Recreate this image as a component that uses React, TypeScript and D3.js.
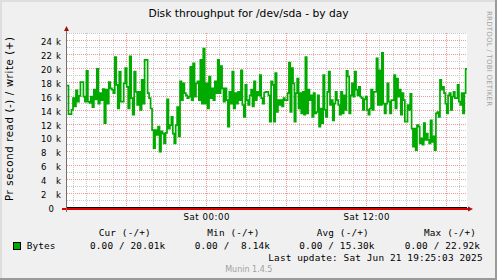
import React from 'react';
import * as d3 from 'd3';

// ---------- data (write throughput, k bytes/s), each segment covers 7.5 hours ----------
const SEG_HOURS = 7.5;
const START = new Date(2025, 5, 20, 13, 32, 0);
const END = new Date(2025, 5, 21, 19, 32, 0);

const writeSeg1 = [
  17.6, 13.5, 13.5, 14.1, 15.8, 14.6, 16.9, 15.3, 16.1, 18.1, 18.1, 16.0, 15.3, 19.7, 15.3, 15.1,
  16.0, 14.5, 17.0, 15.6, 20.0, 15.0, 16.5, 15.5, 17.1, 12.2, 17.0, 15.0, 18.1, 17.2, 17.0, 16.5,
  21.7, 17.7, 14.3, 19.6, 15.3, 15.3, 17.9, 20.1, 17.4, 14.3, 21.8, 15.8, 13.4, 19.6, 16.7, 14.8,
  16.7, 14.1, 18.4, 15.0, 21.3, 21.3, 16.5, 15.8, 14.3, 11.2, 8.6, 11.2, 10.5, 11.7, 8.1, 11.0,
  10.7, 9.3, 10.8,
];
const writeSeg2 = [
  15.6, 11.4, 11.9, 13.1, 10.7, 9.3, 11.9, 14.5, 10.3, 18.2, 15.5, 17.9, 16.5, 16.2, 15.8, 16.0,
  20.3, 15.5, 20.8, 16.0, 17.9, 18.2, 15.5, 21.3, 15.0, 22.9, 15.0, 17.9, 14.3, 18.9, 15.8, 17.2,
  15.5, 18.2, 16.5, 21.3, 16.5, 20.4, 17.2, 15.3, 17.2, 15.5, 11.7, 16.7, 15.0, 19.6, 14.3, 16.5,
  15.0, 16.7, 15.5, 19.8, 14.8, 13.1, 17.7, 15.5, 14.8, 16.2, 17.0, 14.6, 18.2, 15.5, 16.7, 16.2,
  19.1, 15.8, 15.0, 16.6, 16.7,
];
const writeSeg3 = [
  16.7, 16.2, 12.4, 18.2, 17.7, 12.4, 19.4, 13.8, 15.5, 14.8, 15.5, 14.6, 15.8, 15.5, 15.5, 16.5,
  20.9, 13.8, 20.1, 17.9, 12.4, 16.5, 18.6, 14.3, 16.5, 13.6, 16.7, 13.4, 21.7, 13.6, 17.0, 15.5,
  16.2, 13.1, 16.5, 13.6, 13.8, 16.2, 11.7, 14.3, 12.2, 19.1, 14.1, 13.1, 16.7, 19.6, 14.8, 15.5,
  12.6, 15.0, 16.7, 15.5, 14.8, 13.4, 16.7, 13.6, 16.2, 14.1, 19.7, 18.9, 13.6, 16.2, 17.9, 16.0,
  19.6, 17.0, 16.2, 17.4, 16.0, 15.8, 14.1, 15.6, 16.0,
];
const writeSeg4 = [
  14.1, 13.4, 14.3, 17.0, 14.1, 16.7, 16.7, 21.5, 14.8, 19.8, 14.8, 22.3, 15.0, 13.6, 15.0, 17.9,
  15.3, 13.6, 15.5, 15.5, 19.1, 14.3, 18.6, 16.0, 17.0, 13.4, 16.5, 15.5, 12.4, 12.4, 14.8, 14.1,
  16.4, 11.4, 8.8, 11.4, 8.3, 11.9, 11.7, 9.3, 10.0, 9.1, 12.2, 9.8, 10.7, 9.8, 9.3, 12.6,
  9.5, 10.3, 8.3, 13.6, 13.8, 13.1, 18.4, 17.0, 17.4, 16.5, 15.0, 13.6, 16.2, 16.5, 14.1, 16.0,
  16.7, 15.8, 15.8, 17.7, 15.3, 14.8, 16.5, 13.6, 16.5, 20.0,
];
const segments = [writeSeg1, writeSeg2, writeSeg3, writeSeg4];

const yMajorTicks = [0, 2, 4, 6, 8, 10, 12, 14, 16, 18, 20, 22, 24];
const yMinorTicks = [1, 3, 5, 7, 9, 11, 13, 15, 17, 19, 21, 23, 25];
const Y_MAX = 25.15;

const title = 'Disk throughput for /dev/sda - by day';
const vLabel = 'Pr second read (-) / write (+)';
const seriesName = 'Bytes';
const legendHeaders = ['Cur (-/+)', 'Min (-/+)', 'Avg (-/+)', 'Max (-/+)'];
const legendValues = ['0.00 / 20.01k', '0.00 /  8.14k', '0.00 / 15.30k', '0.00 / 22.92k'];
const lastUpdate = 'Last update: Sat Jun 21 19:25:03 2025';
const watermark = 'Munin 1.4.5';
const sideText = 'RRDTOOL / TOBI OETIKER';

// ---------- layout ----------
const W = 497;
const H = 280;
const CL = 67, CR = 467, CT = 33, CB = 208;
const GREEN = '#00aa00';
const SANS = '"DejaVu Sans", sans-serif';
const MONO = '"DejaVu Sans Mono", monospace';

type Pt = { t: Date; v: number };

function buildSeries(): Pt[] {
  const out: Pt[] = [];
  segments.forEach((seg, s) => {
    const t0 = +START + s * SEG_HOURS * 3600e3;
    const dt = (SEG_HOURS * 3600e3) / seg.length;
    seg.forEach((v, i) => out.push({ t: new Date(t0 + i * dt), v }));
  });
  out.push({ t: END, v: out[out.length - 1].v });
  return out;
}

export default function App() {
  const data = buildSeries();
  const x = d3.scaleTime().domain([START, END]).range([CL, CR]);
  const y = d3.scaleLinear().domain([0, Y_MAX]).range([CB, CT]);
  const line = d3
    .line<Pt>()
    .x((d) => x(d.t))
    .y((d) => y(d.v))
    .curve(d3.curveStepAfter);

  const hours = d3.timeHour.range(START, END);
  const majorV = hours.filter((h) => h.getHours() % 6 === 0);
  const minorV = hours.filter((h) => h.getHours() % 6 !== 0);
  const labelV = hours.filter((h) => h.getHours() % 12 === 0);
  const fmt = d3.timeFormat('%a %H:%M');

  const hy = (v: number) => Math.round(y(v)) - 0.5;
  const vx = (t: Date) => Math.floor(x(t)) + 0.5;

  const legendHeaderX = [98.7, 207.3, 316.7, 424];
  const legendValueX = [90, 194.7, 299.3, 404.7];

  return (
    <svg
      width={W}
      height={H}
      viewBox={`0 0 ${W} ${H}`}
      style={{ position: 'absolute', left: 0, top: 0, display: 'block' }}
    >
      <rect x={0} y={0} width={W} height={H} fill="#f0f0f0" />
      {/* frame shading */}
      <path d={`M0,0 H${W} V2 H2 V${H} H0 Z`} fill="#dedede" />
      <path d={`M${W},${H} H0 V${H - 2} H${W - 2} V0 H${W} Z`} fill="#9a9a9a" />

      {/* canvas */}
      <rect x={CL} y={CT} width={CR - CL} height={CB - CT} fill="#ffffff" />

      {/* minor grid */}
      {yMinorTicks
        .filter((v) => v <= Y_MAX)
        .map((v) => (
          <line key={'hm' + v} x1={CL} x2={CR} y1={hy(v)} y2={hy(v)} stroke="#c8c8c8" strokeDasharray="1,1" />
        ))}
      {minorV.map((t) => (
        <line key={'vm' + +t} x1={vx(t)} x2={vx(t)} y1={CT} y2={CB} stroke="#c8c8c8" strokeDasharray="1,1" />
      ))}
      {/* major grid */}
      {yMajorTicks
        .filter((v) => v > 0)
        .map((v) => (
          <line key={'hM' + v} x1={CL} x2={CR} y1={hy(v)} y2={hy(v)} stroke="#f09898" strokeDasharray="1,1" />
        ))}
      {majorV.map((t) => (
        <line key={'vM' + +t} x1={vx(t)} x2={vx(t)} y1={CT} y2={CB} stroke="#f09898" strokeDasharray="1,1" />
      ))}

      {/* data line */}
      <path d={line(data) || ''} fill="none" stroke={GREEN} strokeWidth={1.7} />

      {/* axes */}
      <line x1={CL} x2={CR} y1={CB - 0.5} y2={CB - 0.5} stroke="#000000" strokeWidth={1} />
      <rect x={62} y={CB} width={CR + 1 - 62} height={2} fill="#e00000" />
      <line x1={CL - 0.5} x2={CL - 0.5} y1={29} y2={212} stroke="#707070" strokeWidth={1} />
      <path d={`M${CL - 3},${CT - 2} L${CL + 2},${CT - 2} L${CL - 0.5},${CT - 7} Z`} fill="#a01010" />
      <path d={`M${CR + 1},${CB - 1.5} L${CR + 1},${CB + 3.5} L${CR + 6},${CB + 1} Z`} fill="#a01010" />

      {/* y tick labels */}
      {yMajorTicks.map((v) =>
        v === 0 ? (
          <text key={'yl' + v} x={54} y={hy(v) + 4} fontFamily={SANS} fontSize={8.5} textAnchor="end" fill="#000">
            {v}
          </text>
        ) : (
          <g key={'yl' + v}>
            <text x={41} y={hy(v) + 4} fontFamily={SANS} fontSize={8.5} textAnchor="start" fill="#000">
              {v}
            </text>
            <text x={61} y={hy(v) + 4} fontFamily={SANS} fontSize={8.5} textAnchor="end" fill="#000">
              k
            </text>
          </g>
        )
      )}

      {/* x labels */}
      {labelV.map((t) => (
        <text
          key={'xl' + +t}
          x={vx(t)}
          y={220}
          fontFamily={SANS}
          fontSize={8.6}
          textAnchor="middle"
          textLength={46}
          lengthAdjust="spacing"
          fill="#000"
        >
          {fmt(t)}
        </text>
      ))}

      {/* title */}
      <text x={248.5} y={17} fontFamily={SANS} fontSize={10.7} textAnchor="middle" fill="#000">
        {title}
      </text>

      {/* vertical label */}
      <text
        transform={`translate(12.8,119) rotate(-90)`}
        fontFamily={SANS}
        fontSize={10.2}
        textAnchor="middle"
        textLength={164}
        lengthAdjust="spacing"
        fill="#000"
      >
        {vLabel}
      </text>

      {/* side watermark */}
      <text
        transform={`translate(486.5,58.5) rotate(90)`}
        fontFamily={SANS}
        fontSize={7}
        textAnchor="middle"
        textLength={95}
        lengthAdjust="spacing"
        fill="#a0a0a0"
      >
        {sideText}
      </text>

      {/* legend */}
      {legendHeaders.map((h, i) => (
        <text key={'lh' + i} x={legendHeaderX[i]} y={236} fontFamily={MONO} fontSize={9.4} letterSpacing={0.15} fill="#000" style={{ whiteSpace: 'pre' }}>
          {h}
        </text>
      ))}
      <rect x={13.5} y={242.5} width={7} height={7} fill={GREEN} stroke="#000" strokeWidth={1} />
      <text x={26.7} y={249} fontFamily={MONO} fontSize={9.4} letterSpacing={0.15} fill="#000">
        {seriesName}
      </text>
      {legendValues.map((v, i) => (
        <text key={'lv' + i} x={legendValueX[i]} y={249} fontFamily={MONO} fontSize={9.4} letterSpacing={0.15} fill="#000" style={{ whiteSpace: 'pre' }}>
          {v}
        </text>
      ))}
      <text x={482.7} y={261} fontFamily={MONO} fontSize={9.4} letterSpacing={0.15} textAnchor="end" fill="#000" style={{ whiteSpace: 'pre' }}>
        {lastUpdate}
      </text>
      <text x={248.8} y={271.5} fontFamily={SANS} fontSize={8} textAnchor="middle" fill="#a0a0a0">
        {watermark}
      </text>
    </svg>
  );
}
